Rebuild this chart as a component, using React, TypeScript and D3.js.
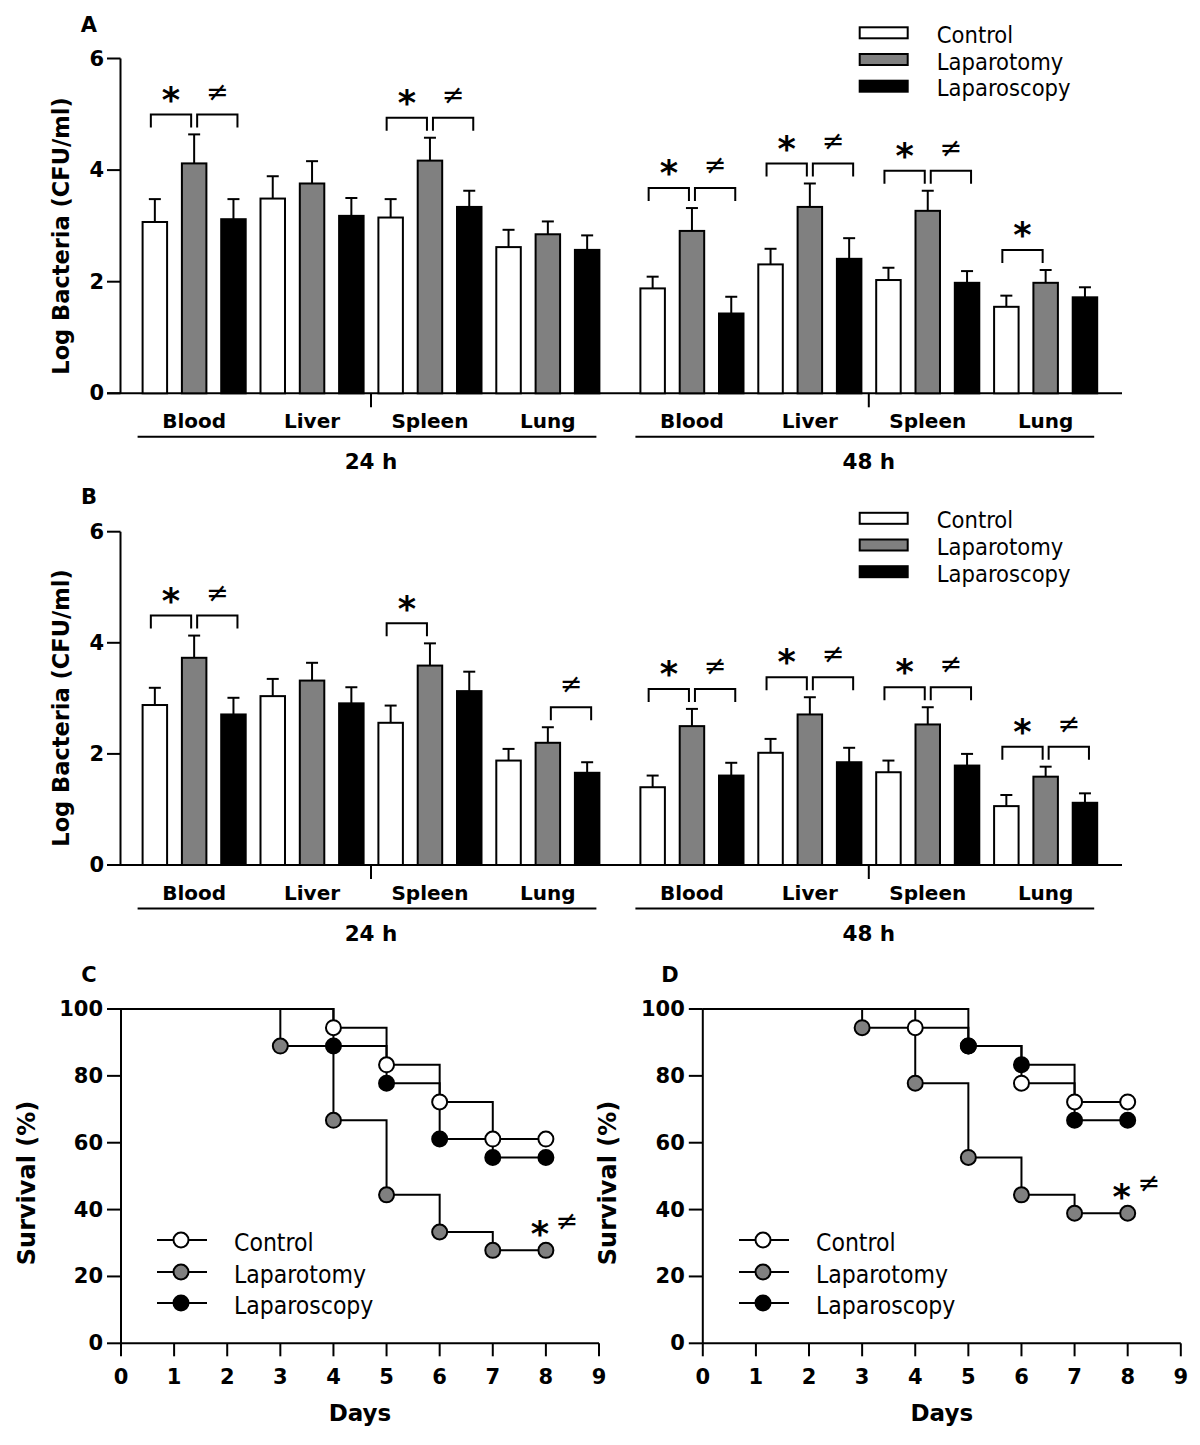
import React from 'react';
import * as d3 from 'd3';

// ---------- data ----------
const organs = ['Blood', 'Liver', 'Spleen', 'Lung'];
const times = ['24 h', '48 h'];
const groups = ['Control', 'Laparotomy', 'Laparoscopy'];
const groupFill = ['#ffffff', '#808080', '#000000'];
const barTicks = [0, 2, 4, 6];

// Panel A — index = time*4 + organ
const aControlMean = [3.07, 3.49, 3.15, 2.62, 1.88, 2.31, 2.03, 1.55];
const aControlSem = [0.41, 0.40, 0.33, 0.31, 0.21, 0.28, 0.22, 0.20];
const aLaparotomyMean = [4.12, 3.76, 4.17, 2.85, 2.91, 3.34, 3.27, 1.98];
const aLaparotomySem = [0.52, 0.40, 0.41, 0.23, 0.41, 0.42, 0.36, 0.23];
const aLaparoscopyMean = [3.12, 3.18, 3.34, 2.57, 1.43, 2.41, 1.98, 1.72];
const aLaparoscopySem = [0.36, 0.32, 0.29, 0.26, 0.30, 0.37, 0.21, 0.18];
const aStar = [true, false, true, false, true, true, true, true];
const aNeq = [true, false, true, false, true, true, true, false];

// Panel B
const bControlMean = [2.88, 3.04, 2.56, 1.88, 1.40, 2.02, 1.67, 1.06];
const bControlSem = [0.31, 0.31, 0.31, 0.21, 0.21, 0.25, 0.21, 0.20];
const bLaparotomyMean = [3.73, 3.32, 3.59, 2.20, 2.50, 2.71, 2.53, 1.59];
const bLaparotomySem = [0.40, 0.32, 0.40, 0.28, 0.31, 0.31, 0.31, 0.18];
const bLaparoscopyMean = [2.71, 2.91, 3.13, 1.66, 1.61, 1.85, 1.79, 1.12];
const bLaparoscopySem = [0.30, 0.29, 0.35, 0.19, 0.23, 0.26, 0.21, 0.17];
const bStar = [true, false, true, false, true, true, true, true];
const bNeq = [true, false, false, true, true, true, true, true];

// Survival (days, %)
const cControl: [number, number][] = [[0, 100], [4, 94.4], [5, 83.3], [6, 72.2], [7, 61.1], [8, 61.1]];
const cLaparotomy: [number, number][] = [[0, 100], [3, 88.9], [4, 66.7], [5, 44.4], [6, 33.3], [7, 27.8], [8, 27.8]];
const cLaparoscopy: [number, number][] = [[0, 100], [4, 88.9], [5, 77.8], [6, 61.1], [7, 55.6], [8, 55.6]];
const dControl: [number, number][] = [[0, 100], [4, 94.4], [5, 88.9], [6, 77.8], [7, 72.2], [8, 72.2]];
const dLaparotomy: [number, number][] = [[0, 100], [3, 94.4], [4, 77.8], [5, 55.6], [6, 44.4], [7, 38.9], [8, 38.9]];
const dLaparoscopy: [number, number][] = [[0, 100], [5, 88.9], [6, 83.3], [7, 66.7], [8, 66.7]];
const dayTicks = [0, 1, 2, 3, 4, 5, 6, 7, 8, 9];
const survTicks = [0, 20, 40, 60, 80, 100];

// ---------- style ----------
const BOLDFONT = "'DejaVu Sans', Verdana, sans-serif";
const CONDFONT = "'DejaVu Sans Condensed', 'DejaVu Sans', sans-serif";
const SW = 2;
const bold = { fontFamily: BOLDFONT, fontWeight: 'bold' as const };

function Star({ x, y, size = 35 }: { x: number; y: number; size?: number }) {
  return (
    <text x={x} y={y + 0.55 * size} textAnchor="middle" fontFamily={BOLDFONT} fontWeight="bold"
      fontSize={size}>*</text>
  );
}
function Neq({ x, y, size = 27 }: { x: number; y: number; size?: number }) {
  return (
    <text x={x} y={y + 0.34 * size} textAnchor="middle" fontFamily={BOLDFONT} fontSize={size}>≠</text>
  );
}

type BarProps = {
  label: string;
  yTop: number;
  yBase: number;
  means: number[][];
  sems: number[][];
  stars: boolean[];
  neqs: boolean[];
  legendY: number;
  titleY: number;
  labelY: number;
};

function BarPanel({ label, yTop, yBase, means, sems, stars, neqs, legendY, titleY, labelY }: BarProps) {
  const y = d3.scaleLinear().domain([0, 6]).range([yBase, yTop]);
  const xTime = d3.scaleOrdinal<string, number>().domain(times).range([141.6, 639.4]);
  const xOrgan = d3.scaleBand<string>().domain(organs).range([0, 471.6]);
  const xGroup = d3.scaleBand<string>().domain(groups).range([0, 105.1]).paddingInner(0.326);
  const bw = xGroup.bandwidth();
  const left = (t: number, o: number, g: number) =>
    (xTime(times[t]) as number) + (xOrgan(organs[o]) as number) + (xGroup(groups[g]) as number);
  const center = (t: number, o: number, g: number) => left(t, o, g) + bw / 2;
  const axisX = 120.5;

  const elems: React.ReactNode[] = [];
  times.forEach((t, ti) => {
    organs.forEach((o, oi) => {
      const idx = ti * 4 + oi;
      groups.forEach((g, gi) => {
        const m = means[gi][idx];
        const s = sems[gi][idx];
        const cx = center(ti, oi, gi);
        elems.push(
          <g key={`${t}-${o}-${g}`}>
            <line x1={cx} x2={cx} y1={y(m)} y2={y(m + s)} stroke="#000" strokeWidth={SW} />
            <line x1={cx - 6} x2={cx + 6} y1={y(m + s)} y2={y(m + s)} stroke="#000" strokeWidth={SW} />
            <rect x={left(ti, oi, gi) + 1} y={y(m)} width={bw - 2} height={yBase - y(m)}
              fill={groupFill[gi]} stroke="#000" strokeWidth={SW} />
          </g>
        );
      });
      const top = y(means[1][idx] + sems[1][idx]) - 20;
      const c0 = center(ti, oi, 0), c1 = center(ti, oi, 1), c2 = center(ti, oi, 2);
      if (stars[idx]) {
        const x1 = c0 - 4, x2 = c1 - 3;
        elems.push(
          <g key={`s-${idx}`}>
            <path d={`M${x1},${top + 13}V${top}H${x2}V${top + 13}`} fill="none" stroke="#000" strokeWidth={SW} />
            <Star x={(x1 + x2) / 2} y={top - 22} />
          </g>
        );
      }
      if (neqs[idx]) {
        const x1 = c1 + 3, x2 = c2 + 4;
        elems.push(
          <g key={`n-${idx}`}>
            <path d={`M${x1},${top + 13}V${top}H${x2}V${top + 13}`} fill="none" stroke="#000" strokeWidth={SW} />
            <Neq x={(x1 + x2) / 2} y={top - 23} />
          </g>
        );
      }
      elems.push(
        <text key={`ol-${idx}`} x={(left(ti, oi, 0) + left(ti, oi, 2) + bw) / 2} y={yBase + 28}
          textAnchor="middle" dominantBaseline="central" fontSize={20} {...bold}>{o}</text>
      );
    });
    const x0 = left(ti, 0, 0), x1 = left(ti, 3, 2) + bw;
    const sep = (left(ti, 1, 2) + bw + left(ti, 2, 0)) / 2;
    elems.push(
      <g key={`t-${t}`}>
        <line x1={sep} x2={sep} y1={yBase} y2={yBase + 14} stroke="#000" strokeWidth={SW} />
        <line x1={x0 - 4} x2={x1 - 4} y1={yBase + 43.5} y2={yBase + 43.5} stroke="#000" strokeWidth={SW} />
        <text x={(x0 + x1) / 2} y={yBase + 68.5} textAnchor="middle" dominantBaseline="central"
          fontSize={21.5} {...bold}>{t}</text>
      </g>
    );
  });

  return (
    <g>
      <text x={89} y={labelY} textAnchor="middle" dominantBaseline="central" fontSize={21} {...bold}>{label}</text>
      <text transform={`translate(61,${titleY}) rotate(-90)`} textAnchor="middle" dominantBaseline="central"
        fontSize={22.5} {...bold}>Log Bacteria (CFU/ml)</text>
      <line x1={axisX} x2={axisX} y1={y(6)} y2={yBase} stroke="#000" strokeWidth={SW} />
      <line x1={107} x2={1122} y1={yBase} y2={yBase} stroke="#000" strokeWidth={SW} />
      {barTicks.map((t) => (
        <g key={t}>
          <line x1={107} x2={axisX} y1={y(t)} y2={y(t)} stroke="#000" strokeWidth={SW} />
          <text x={104} y={y(t)} textAnchor="end" dominantBaseline="central" fontSize={21} {...bold}>{t}</text>
        </g>
      ))}
      {elems}
      {groups.map((g, gi) => (
        <g key={g}>
          <rect x={859.7} y={legendY + gi * 26.7 - 5.5} width={48} height={11} fill={groupFill[gi]}
            stroke="#000" strokeWidth={SW} />
          <text x={936.8} y={legendY + gi * 26.7 + 2} dominantBaseline="central" fontFamily={CONDFONT}
            style={{ fontStretch: 'condensed' }} fontSize={23.5}>{g}</text>
        </g>
      ))}
    </g>
  );
}

type SurvProps = {
  label: string;
  axisX: number;
  series: [number, number][][];
  titleX: number;
  legendX: number;
  labelX: number;
};

function SurvPanel({ label, axisX, series, titleX, legendX, labelX }: SurvProps) {
  const x = d3.scaleLinear().domain([0, 9]).range([axisX, axisX + 478]);
  const y = d3.scaleLinear().domain([0, 100]).range([1343.3, 1009]);
  const line = d3.line<[number, number]>().x((d) => x(d[0])).y((d) => y(d[1])).curve(d3.curveStepAfter);
  const lap = series[1];
  const last = lap[lap.length - 1];
  return (
    <g>
      <text x={labelX} y={975} textAnchor="middle" dominantBaseline="central" fontSize={21} {...bold}>{label}</text>
      <text transform={`translate(${titleX},1183) rotate(-90)`} textAnchor="middle" dominantBaseline="central"
        fontSize={24} {...bold}>Survival (%)</text>
      <line x1={axisX} x2={axisX} y1={y(100)} y2={y(0)} stroke="#000" strokeWidth={SW} />
      <line x1={axisX} x2={x(9)} y1={y(0)} y2={y(0)} stroke="#000" strokeWidth={SW} />
      {survTicks.map((t) => (
        <g key={t}>
          <line x1={axisX - 14} x2={axisX} y1={y(t)} y2={y(t)} stroke="#000" strokeWidth={SW} />
          <text x={axisX - 18} y={y(t)} textAnchor="end" dominantBaseline="central" fontSize={21} {...bold}>{t}</text>
        </g>
      ))}
      {dayTicks.map((t) => (
        <g key={t}>
          <line x1={x(t)} x2={x(t)} y1={y(0)} y2={y(0) + 13} stroke="#000" strokeWidth={SW} />
          <text x={x(t)} y={1377} textAnchor="middle" dominantBaseline="central" fontSize={21} {...bold}>{t}</text>
        </g>
      ))}
      <text x={x(4.5)} y={1413} textAnchor="middle" dominantBaseline="central" fontSize={23} {...bold}>Days</text>
      {series.map((s, si) => (
        <path key={`l${si}`} d={line(s) || ''} fill="none" stroke="#000" strokeWidth={SW} />
      ))}
      {series.map((s, si) => (
        <g key={`m${si}`}>
          {s.slice(1).map((d, i) => (
            <circle key={i} cx={x(d[0])} cy={y(d[1])} r={7.5} fill={groupFill[si]} stroke="#000" strokeWidth={SW} />
          ))}
        </g>
      ))}
      <Star x={x(last[0]) - 6} y={y(last[1]) - 24} />
      <Neq x={x(last[0]) + 21} y={y(last[1]) - 30} />
      {groups.map((g, gi) => {
        const ly = [1240, 1272, 1303][gi];
        return (
          <g key={g}>
            <line x1={legendX} x2={legendX + 50} y1={ly} y2={ly} stroke="#000" strokeWidth={SW} />
            <circle cx={legendX + 24} cy={ly} r={7.5} fill={groupFill[gi]} stroke="#000" strokeWidth={SW} />
            <text x={legendX + 77} y={ly + 2} dominantBaseline="central" fontFamily={CONDFONT}
              style={{ fontStretch: 'condensed' }} fontSize={24.5}>{g}</text>
          </g>
        );
      })}
    </g>
  );
}

export default function App() {
  return (
    <svg width={1200} height={1445} viewBox="0 0 1200 1445"
      style={{ position: 'absolute', left: 0, top: 0, background: '#fff' }}>
      <rect width={1200} height={1445} fill="#fff" />
      <BarPanel label="A" yTop={58.5} yBase={393.3}
        means={[aControlMean, aLaparotomyMean, aLaparoscopyMean]}
        sems={[aControlSem, aLaparotomySem, aLaparoscopySem]}
        stars={aStar} neqs={aNeq} legendY={32.8} titleY={236} labelY={25} />
      <BarPanel label="B" yTop={531.7} yBase={865}
        means={[bControlMean, bLaparotomyMean, bLaparoscopyMean]}
        sems={[bControlSem, bLaparotomySem, bLaparoscopySem]}
        stars={bStar} neqs={bNeq} legendY={518.3} titleY={708} labelY={497} />
      <SurvPanel label="C" axisX={121} series={[cControl, cLaparotomy, cLaparoscopy]}
        titleX={27} legendX={157} labelX={89} />
      <SurvPanel label="D" axisX={702.8} series={[dControl, dLaparotomy, dLaparoscopy]}
        titleX={607.5} legendX={739} labelX={670} />
    </svg>
  );
}
